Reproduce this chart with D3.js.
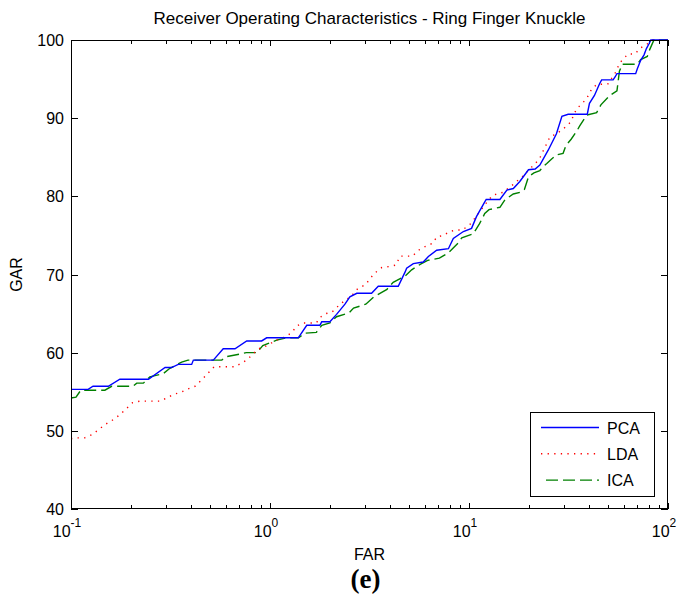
<!DOCTYPE html>
<html>
<head>
<meta charset="utf-8">
<script src="https://cdn.jsdelivr.net/npm/d3@7.9.0/dist/d3.min.js"></script>
<style>
  html, body { margin: 0; padding: 0; background: #fff; }
  svg { display: block; font-family: "Liberation Sans", Arial, sans-serif; }
</style>
</head>
<body>
<svg id="chart" width="682" height="599"></svg>
<script>
/* ---- data: [FAR %, GAR %] ---- */
const pca = [
  [0.1,55.3],[0.122,55.3],[0.129,55.7],[0.154,55.7],[0.176,56.6],[0.245,56.6],[0.297,58.1],[0.32,58.1],
  [0.346,58.5],[0.404,58.5],[0.412,59.05],[0.519,59.05],[0.582,60.5],[0.667,60.5],[0.764,61.5],[0.908,61.5],
  [0.962,61.9],[1.387,61.9],[1.53,63.5],[1.78,63.5],[1.82,63.95],[2.0,63.95],[2.16,64.9],[2.38,66.2],
  [2.52,67.15],[2.73,67.6],[3.24,67.6],[3.5,68.5],[4.41,68.5],[4.77,70.3],[4.86,70.8],[5.25,71.4],
  [5.89,71.6],[6.25,72.3],[6.88,73.1],[7.88,73.3],[8.34,74.6],[9.37,75.5],[10.3,75.9],[10.9,77.4],
  [12.0,79.3],[12.2,79.6],[14.3,79.6],[15.5,80.8],[16.7,81.0],[18.0,81.9],[19.9,83.4],[21.5,83.5],
  [22.7,84.0],[25.0,85.9],[27.5,88.0],[29.3,90.25],[31.5,90.5],[39.3,90.5],[40.3,91.9],[42.7,92.9],
  [45.3,94.4],[46.4,94.9],[53.0,94.9],[54.3,95.3],[55.4,95.7],[68.8,95.7],[70.2,96.35],[72.9,97.4],
  [75.8,98.1],[77.9,98.9],[80.4,99.55],[82,100],[100,100]
];
const lda = [
  [0.1,49.0],[0.107,49.1],[0.117,49.1],[0.127,49.5],[0.137,50.1],[0.148,50.8],[0.16,51.3],[0.175,52.0],
  [0.189,52.8],[0.204,53.6],[0.222,53.8],[0.28,53.8],[0.303,54.2],[0.329,54.7],[0.355,54.9],[0.386,55.35],
  [0.42,55.7],[0.453,56.5],[0.485,57.3],[0.524,58.2],[0.667,58.2],[0.7,58.5],[0.764,59.05],[0.87,60.45],
  [0.945,60.8],[1.1,61.7],[1.19,62.0],[1.29,62.6],[1.36,63.4],[1.47,63.8],[1.71,63.8],[1.78,64.5],
  [1.91,65.0],[2.05,65.2],[2.19,65.9],[2.38,66.7],[2.56,67.2],[2.76,68.2],[3.02,68.7],[3.33,70.1],
  [3.65,70.9],[3.94,71.0],[4.29,71.2],[4.51,72.35],[5.2,72.35],[5.57,73.1],[6.05,73.6],[6.58,74.0],
  [6.88,74.8],[7.44,75.0],[8.0,75.5],[8.68,75.7],[9.28,75.7],[10.1,76.4],[10.7,77.2],[11.3,78.0],
  [12.0,78.9],[13.1,80.1],[14.2,80.4],[14.8,80.5],[16.3,81.3],[17.5,82.0],[18.5,82.5],[20.2,83.5],
  [21.7,84.3],[22.7,84.9],[24.1,86.3],[25.5,87.6],[27.5,88.0],[29.7,88.6],[32.4,89.5],[34.7,91.2],
  [36.8,91.8],[39.0,92.5],[41.3,93.7],[43.8,94.3],[50.0,94.4],[54.3,95.8],[57.3,97.1],[62.9,98.2],
  [68.1,98.2],[72.9,99.0],[78.7,99.5],[84,100],[100,100]
];
const ica = [
  [0.1,54.2],[0.106,54.3],[0.112,55.2],[0.148,55.2],[0.16,55.7],[0.205,55.7],[0.214,56.1],[0.231,56.1],
  [0.249,56.9],[0.29,57.3],[0.314,58.0],[0.36,58.8],[0.387,59.05],[0.572,59.05],[0.606,59.5],[0.7,59.8],
  [0.76,60.0],[0.86,60.0],[0.92,60.9],[1.08,61.6],[1.21,61.9],[1.39,61.9],[1.5,62.5],[1.71,62.6],
  [1.82,63.5],[2.0,63.8],[2.16,64.6],[2.5,65.1],[2.63,65.7],[3.03,66.2],[3.31,67.1],[3.87,68.1],
  [4.16,69.0],[4.77,69.8],[5.15,70.6],[5.77,71.4],[6.2,71.8],[7.1,72.1],[7.9,72.8],[8.8,74.0],
  [9.2,74.7],[10.5,75.2],[11.3,76.5],[12.0,77.8],[12.6,78.3],[14.3,78.6],[15.2,79.6],[16.7,80.3],
  [18.0,80.5],[19.0,80.9],[19.9,82.5],[21.2,83.0],[22.7,83.3],[23.6,83.8],[24.6,84.2],[26.1,84.8],
  [27.5,85.3],[29.7,85.5],[30.7,86.5],[32.6,87.3],[34.7,88.3],[36.0,89.0],[39.0,90.4],[43.8,90.7],
  [46,91.7],[51,92.9],[55.4,93.5],[57,96.0],[59,96.9],[70.2,96.9],[72.9,97.5],[78.7,97.9],
  [81,98.8],[85,100],[100,100]
];
const seriesNames = ['PCA', 'LDA', 'ICA'];
const yTicks = [40, 50, 60, 70, 80, 90, 100];
const xMajor = [0.1, 1, 10, 100];
const xMajorExp = ['-1', '0', '1', '2'];

/* ---- layout ---- */
const svg = d3.select('#chart');
const m = { left: 71, right: 668, top: 40, bottom: 509 };

const x = d3.scaleLog().domain([0.1, 100]).range([m.left, m.right]);
const y = d3.scaleLinear().domain([40, 100]).range([m.bottom, m.top]);

const xMinor = [];
[0.1, 1, 10].forEach(d => { for (let k = 2; k <= 9; k++) xMinor.push(d * k); });

const styles = {
  PCA: { color: '#0000ff', dash: null, width: 1.4 },
  LDA: { color: '#ff0000', dash: '1.3 5.3', width: 1.4 },
  ICA: { color: '#008000', dash: '12 5', width: 1.4 }
};

/* ---- ticks (inward, on all four sides) ---- */
const ax = svg.append('g').attr('stroke', '#000').attr('stroke-width', 1).attr('shape-rendering', 'crispEdges');
xMajor.forEach(v => {
  const px = Math.round(x(v)) + 0.5;
  ax.append('line').attr('x1', px).attr('x2', px).attr('y1', m.bottom).attr('y2', m.bottom - 6);
  ax.append('line').attr('x1', px).attr('x2', px).attr('y1', m.top).attr('y2', m.top + 6);
});
xMinor.forEach(v => {
  const px = Math.round(x(v)) + 0.5;
  ax.append('line').attr('x1', px).attr('x2', px).attr('y1', m.bottom).attr('y2', m.bottom - 4);
  ax.append('line').attr('x1', px).attr('x2', px).attr('y1', m.top).attr('y2', m.top + 4);
});
yTicks.forEach(v => {
  const py = Math.round(y(v)) + 0.5;
  ax.append('line').attr('x1', m.left).attr('x2', m.left + 7).attr('y1', py).attr('y2', py);
  ax.append('line').attr('x1', m.right).attr('x2', m.right - 7).attr('y1', py).attr('y2', py);
});

/* ---- curves ---- */
svg.append('clipPath').attr('id', 'plotclip')
  .append('rect').attr('x', m.left).attr('y', m.top - 2)
  .attr('width', m.right - m.left).attr('height', m.bottom - m.top + 2);

const line = d3.line().x(d => x(d[0])).y(d => y(d[1]));
const plot = svg.append('g').attr('clip-path', 'url(#plotclip)');
[['PCA', pca], ['LDA', lda], ['ICA', ica]].reverse().forEach(([name, data]) => {
  const s = styles[name];
  plot.append('path')
    .datum(data)
    .attr('d', line)
    .attr('fill', 'none')
    .attr('stroke', s.color)
    .attr('stroke-width', s.width)
    .attr('stroke-dasharray', s.dash);
});

/* ---- box ---- */
svg.append('rect')
  .attr('x', m.left + 0.5).attr('y', m.top + 0.5)
  .attr('width', m.right - m.left - 1).attr('height', m.bottom - m.top - 1)
  .attr('fill', 'none').attr('stroke', '#000').attr('shape-rendering', 'crispEdges');

/* ---- tick labels ---- */
svg.append('g').selectAll('text').data(yTicks).join('text')
  .attr('x', m.left - 7).attr('y', d => y(d) + 6)
  .attr('text-anchor', 'end').attr('font-size', 16).text(d => d);

const xl = svg.append('g').selectAll('text').data(xMajor).join('text')
  .attr('x', d => x(d) - 4).attr('y', 537)
  .attr('text-anchor', 'middle').attr('font-size', 16);
xl.append('tspan').text('10');
xl.append('tspan').attr('dy', -10).attr('font-size', 12).text((d, i) => xMajorExp[i]);

/* ---- titles ---- */
svg.append('text').attr('x', (m.left + m.right) / 2).attr('y', 24)
  .attr('text-anchor', 'middle').attr('font-size', 17)
  .text('Receiver Operating Characteristics - Ring Finger Knuckle');
svg.append('text').attr('x', (m.left + m.right) / 2).attr('y', 560)
  .attr('text-anchor', 'middle').attr('font-size', 16).text('FAR');
svg.append('text').attr('transform', `translate(22,${(m.top + m.bottom) / 2}) rotate(-90)`)
  .attr('text-anchor', 'middle').attr('font-size', 16).text('GAR');
svg.append('text').attr('x', (m.left + m.right) / 2 - 4).attr('y', 588)
  .attr('text-anchor', 'middle').attr('font-size', 27).attr('font-weight', 'bold')
  .attr('font-family', '"Liberation Serif", "Times New Roman", serif').text('(e)');

/* ---- legend ---- */
const lg = svg.append('g');
lg.append('rect').attr('x', 530.5).attr('y', 412.5).attr('width', 124).attr('height', 84)
  .attr('fill', '#fff').attr('stroke', '#000').attr('shape-rendering', 'crispEdges');
seriesNames.forEach((name, i) => {
  const s = styles[name];
  const ly = 427.5 + i * 26.3;
  lg.append('line').attr('x1', name === 'ICA' ? 546 : 541).attr('x2', 599).attr('y1', ly).attr('y2', ly)
    .attr('stroke', s.color).attr('stroke-width', s.width).attr('stroke-dasharray', s.dash);
  lg.append('text').attr('x', 607).attr('y', ly + 6).attr('font-size', 16).text(name);
});
</script>
</body>
</html>
